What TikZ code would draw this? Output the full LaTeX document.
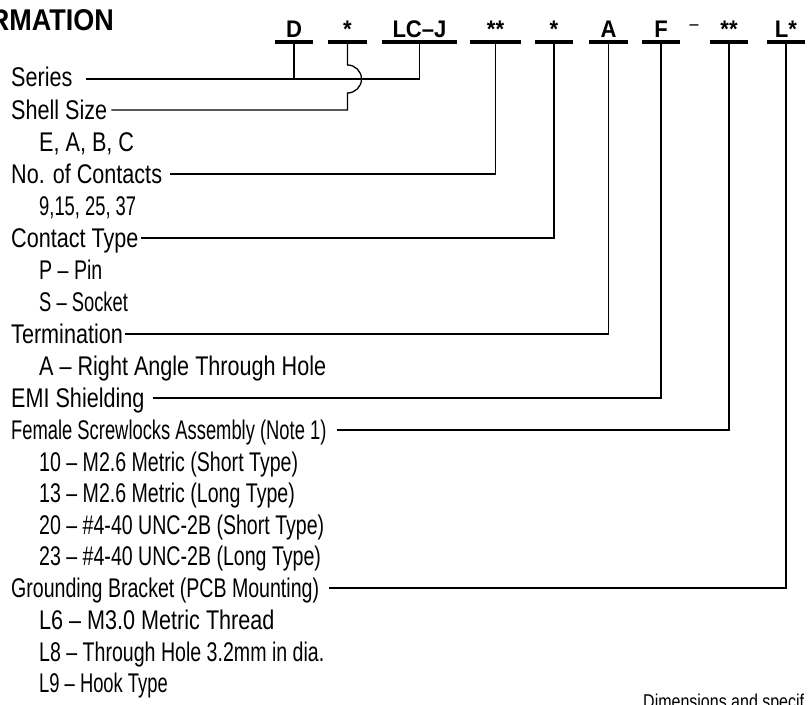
\documentclass[tikz,border=0pt]{standalone}
\usepackage{fontspec}
\setmainfont{Liberation Sans}[FakeStretch=0.8]
\newfontfamily\slimfont{Liberation Sans}[FakeStretch=0.725, Ligatures=TeX]
\newfontfamily\slimmerfont{Liberation Sans}[FakeStretch=0.68, Ligatures=TeX]
\newfontfamily\codefont{Liberation Sans}[FakeStretch=0.92, Ligatures=TeX]
\newfontfamily\headfont{Liberation Sans}[FakeStretch=0.9]
\usetikzlibrary{calc}

\tikzset{
  item/.style={anchor=west, inner sep=0pt, font=\fontsize{27}{30}\selectfont, text height=19pt, text depth=0pt},
  slim/.style={item, font=\slimfont\fontsize{27}{30}\selectfont},
  slimmer/.style={item, font=\slimmerfont\fontsize{27}{30}\selectfont},
  code/.style={anchor=south, inner xsep=0pt, inner ysep=0pt, minimum height=26pt, text depth=0pt, font=\codefont\bfseries\fontsize{24}{28}\selectfont, minimum width=38pt},
  bar/.style={line width=3.4pt},
  lead/.style={line width=1.3pt},
}

\begin{document}
\begin{tikzpicture}[x=1pt, y=1pt]
\useasboundingbox (0,0) rectangle (808,-704);
% Heading
\node[anchor=south east, inner sep=0pt, font=\headfont\bfseries\fontsize{30}{34}\selectfont] (title) at (114,-31) {RMATION};
% Part number codes
\node[code] (cD) at (294,-42) {D};
\node[code] (cShell) at (347.5,-42) {*};
\node[code, minimum width=75pt] (cSeries) at (419.5,-42) {LC--J};
\node[code, minimum width=51pt] (cCont) at (495.5,-42) {**};
\node[code] (cType) at (554,-42) {*};
\node[code] (cTerm) at (608.5,-42) {A};
\node[code] (cEmi) at (661,-42) {F};
\node[inner sep=0pt, font=\fontsize{20}{24}\selectfont] (dash) at (694,-28) {--};
\node[code] (cLock) at (729,-42) {**};
\node[code] (cBrk) at (786,-42) {L*};
\foreach \n in {cD, cShell, cSeries, cCont, cType, cTerm, cEmi, cLock, cBrk}
  \draw[bar] (\n.south west) -- (\n.south east);
% Descriptions
\node[item] (series) at (11,-77) {Series};
\node[item] (shell) at (11,-110) {Shell Size};
\node[item] (shellv) at (39,-142) {E, A, B, C};
\node[item] (cont) at (11,-174) {No. of Contacts};
\node[slimmer] (contv) at (39,-206) {9,15, 25, 37};
\node[item] (type) at (11,-238) {Contact Type};
\node[slim] (typep) at (39,-270) {P -- Pin};
\node[slimmer] (types) at (39,-302) {S -- Socket};
\node[item] (term) at (11,-334) {Termination};
\node[item] (terma) at (39,-366) {A -- Right Angle Through Hole};
\node[item] (emi) at (11,-398) {EMI Shielding};
\node[slimmer] (lock) at (11,-430) {Female Screwlocks Assembly (Note 1)};
\node[slim] (lock10) at (39,-461.5) {10 -- M2.6 Metric (Short Type)};
\node[slim] (lock13) at (39,-493) {13 -- M2.6 Metric (Long Type)};
\node[slim] (lock20) at (39,-524.5) {20 -- \#4-40 UNC-2B (Short Type)};
\node[slim] (lock23) at (39,-556) {23 -- \#4-40 UNC-2B (Long Type)};
\node[slim] (brk) at (11,-588) {Grounding Bracket (PCB Mounting)};
\node[item] (brk6) at (39,-620) {L6 -- M3.0 Metric Thread};
\node[slim] (brk8) at (39,-651.5) {L8 -- Through Hole 3.2mm in dia.};
\node[slimmer] (brk9) at (39,-683) {L9 -- Hook Type};
\node[anchor=base west, inner sep=0pt, font=\fontsize{20}{24}\selectfont] (note) at (643,-708) {Dimensions and specif};
% Leaders
\draw[lead] (cD.south) -- ([yshift=-2pt]cD.south |- series.east);
\draw[lead] ([shift={(13pt,-2pt)}]series.east) -| (cSeries.south);
\draw[lead] (cShell.south) -- ($(cShell.south |- series.east)+(0,12)$)
  arc[start angle=90, end angle=-90, radius=14pt] -- (cShell.south |- shell.east) -- ([xshift=4pt]shell.east);
\draw[lead] ([xshift=8pt]cont.east) -| (cCont.south);
\draw[lead] ([xshift=2pt]type.east) -| (cType.south);
\draw[lead] ([xshift=2pt]term.east) -| (cTerm.south);
\draw[lead] ([xshift=8pt]emi.east) -| (cEmi.south);
\draw[lead] ([xshift=10pt]lock.east) -| (cLock.south);
\draw[lead] ([xshift=10pt]brk.east) -| (cBrk.south);
\end{tikzpicture}
\end{document}
